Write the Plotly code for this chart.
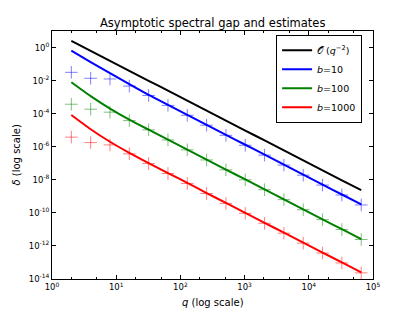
import plotly.graph_objects as go

# q = 2^1 .. 2^16
q_values = [2, 4, 8, 16, 32, 64, 128, 256, 512, 1024, 2048, 4096,
            8192, 16384, 32768, 65536]

# log10 of delta
log_ref = [0.40, -0.20, -0.81, -1.41, -2.01, -2.61, -3.21, -3.82,
           -4.42, -5.02, -5.62, -6.22, -6.83, -7.43, -8.03, -8.63]
log_b10_line = [-0.19, -0.88, -1.55, -2.22, -2.87, -3.47, -4.07, -4.68,
                -5.28, -5.88, -6.48, -7.08, -7.69, -8.29, -8.89, -9.49]
log_b10_est = [-1.50, -1.86, -1.90, -2.33, -2.90, -3.50, -4.10, -4.70,
               -5.31, -5.91, -6.51, -7.11, -7.72, -8.32, -8.92, -9.52]
log_b100_line = [-2.10, -2.94, -3.69, -4.36, -4.97, -5.57, -6.17, -6.78,
                 -7.38, -7.98, -8.58, -9.18, -9.79, -10.39, -10.99, -11.59]
log_b100_est = [-3.43, -3.73, -3.91, -4.42, -4.98, -5.59, -6.19, -6.80,
                -7.40, -8.00, -8.60, -9.20, -9.81, -10.41, -11.01, -11.61]
log_b1000_line = [-4.08, -4.94, -5.70, -6.37, -6.99, -7.59, -8.19, -8.80,
                  -9.40, -10.00, -10.60, -11.20, -11.80, -12.40, -13.00, -13.60]
log_b1000_est = [-5.42, -5.75, -5.89, -6.43, -7.02, -7.62, -8.22, -8.83,
                 -9.43, -10.03, -10.63, -11.23, -11.83, -12.43, -13.03, -13.63]

legend_names = ["𝒪 (<i>q</i><sup>−2</sup>)", "<i>b</i>=10", "<i>b</i>=100", "<i>b</i>=1000"]
x_tick_vals = [1, 10, 100, 1000, 10000, 100000]
x_tick_text = ["10<sup>0</sup>", "10<sup>1</sup>", "10<sup>2</sup>", "10<sup>3</sup>",
               "10<sup>4</sup>", "10<sup>5</sup>"]
y_tick_exps = [0, -2, -4, -6, -8, -10, -12, -14]

def tv(lst):
    return [10 ** v for v in lst]

fig = go.Figure()
colors = ["black", "rgb(0,0,255)", "rgb(0,128,0)", "rgb(255,0,0)"]
est_colors = [None, "rgba(0,0,255,0.5)", "rgba(0,128,0,0.5)", "rgba(255,0,0,0.5)"]
lines = [log_ref, log_b10_line, log_b100_line, log_b1000_line]
ests = [None, log_b10_est, log_b100_est, log_b1000_est]

for i in range(4):
    fig.add_trace(go.Scatter(x=q_values, y=tv(lines[i]), mode="lines",
                             line=dict(color=colors[i], width=2, shape="spline",
                                       smoothing=0.6),
                             name=legend_names[i]))
for i in range(1, 4):
    fig.add_trace(go.Scatter(x=q_values, y=tv(ests[i]), mode="markers",
                             marker=dict(symbol="cross-thin", size=9,
                                         line=dict(color=est_colors[i], width=1)),
                             showlegend=False))

# page body has an 8px margin, so the figure is sized/offset to compensate
fig.update_layout(
    width=407, height=304,
    margin=dict(l=44, t=23, r=42, b=33),
    paper_bgcolor="white", plot_bgcolor="white",
    font=dict(family="DejaVu Sans", color="black", size=9),
    showlegend=True,
    legend=dict(x=0.966, y=0.985, xanchor="right", yanchor="top",
                bgcolor="white", bordercolor="black", borderwidth=1,
                font=dict(size=9.5), itemwidth=30, tracegroupgap=0),
    annotations=[
        dict(text="Asymptotic spectral gap and estimates", xref="paper", yref="paper",
             x=0.5, y=1, yshift=-1, xanchor="center", yanchor="bottom", showarrow=False,
             font=dict(size=11.5)),
        dict(text="<i>q</i> (log scale)", xref="paper", yref="paper",
             x=0.5, y=0, yshift=-16, xanchor="center", yanchor="top", showarrow=False,
             font=dict(size=10)),
        dict(text="<i>δ</i> (log scale)", xref="paper", yref="paper",
             x=0, xshift=-44, y=0.5, xanchor="left", yanchor="middle", showarrow=False,
             textangle=-90, font=dict(size=10)),
    ],
)
fig.update_xaxes(type="log", range=[0, 5], showline=True, linecolor="black",
                 linewidth=1, mirror="ticks", ticks="inside", ticklen=4,
                 tickcolor="black", tickvals=x_tick_vals, ticktext=x_tick_text,
                 showgrid=False, zeroline=False, tickfont=dict(size=8.5),
                 minor=dict(ticks="inside", ticklen=2, tickcolor="black",
                            showgrid=False))
fig.update_yaxes(type="log", range=[-14, 1], showline=True, linecolor="black",
                 linewidth=1, mirror="ticks", ticks="inside", ticklen=4,
                 tickcolor="black", tickvals=[10 ** e for e in y_tick_exps],
                 ticktext=["10<sup>%d</sup>" % e for e in y_tick_exps],
                 showgrid=False, zeroline=False, tickfont=dict(size=8.5))

fig.write_html("out.html")
